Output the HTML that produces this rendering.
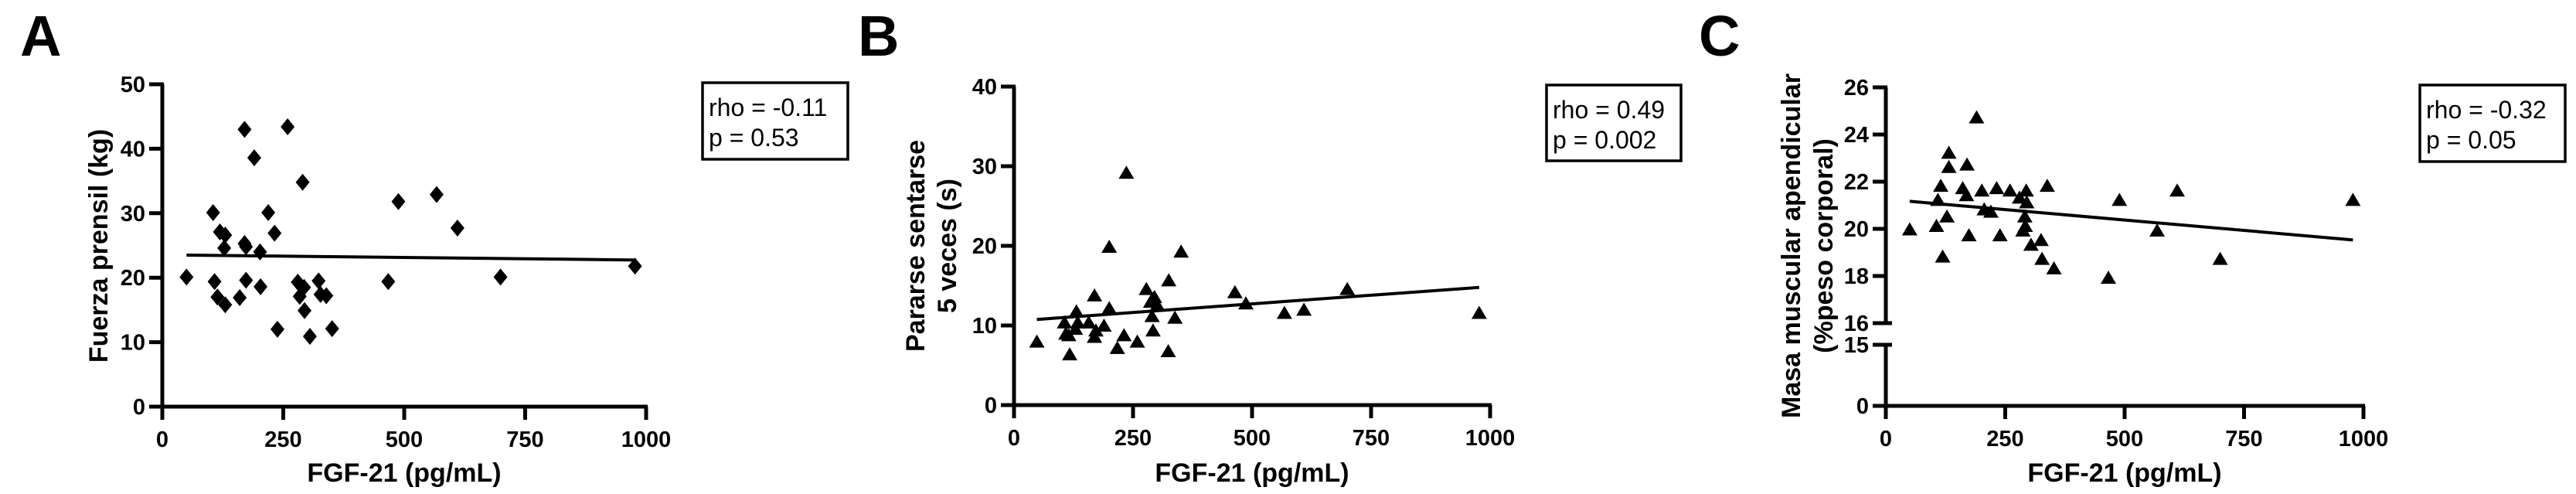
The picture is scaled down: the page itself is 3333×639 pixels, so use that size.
<!DOCTYPE html>
<html><head><meta charset="utf-8"><style>
html,body{margin:0;padding:0;background:#fff;}
svg{display:block;font-family:"Liberation Sans",Arial,sans-serif;}
</style></head><body>
<svg id="chart" width="3333" height="639" viewBox="0 0 3333 639" xmlns="http://www.w3.org/2000/svg"></svg>
<script>
// ---- data ----
const xTicks = [0, 250, 500, 750, 1000];
const aX = [50,108,114,130,105,119,130,128,160,170,170,173,173,190,202,203,219,232,238,259,280,284,290,293,294,305,323,327,339,351,467,488,567,610,699,977];
const aY = [20.1,19.4,17.0,15.8,30.1,27.1,26.6,24.6,16.9,43.0,25.3,24.8,19.6,38.6,24.0,18.6,30.1,26.9,12.0,43.4,19.3,17.1,34.8,18.5,14.9,10.9,19.5,17.4,17.2,12.1,19.4,31.8,32.9,27.7,20.1,21.8];
const aYTicks = [0,10,20,30,40,50];
const bX = [48,106,109,117,115,129,131,134,157,169,169,172,189,200,200,217,231,236,259,278,287,290,292,295,301,324,325,338,351,464,487,568,609,700,977];
const bY = [7.9,10.3,8.9,6.3,8.7,9.5,11.7,10.3,10.3,13.7,8.5,9.3,9.9,12.1,19.8,7.1,8.7,29.1,7.9,14.5,12.9,11.1,9.3,13.5,12.5,6.7,15.6,10.9,19.2,14.1,12.7,11.5,11.9,14.5,11.5];
const bYTicks = [0,10,20,30,40];
const cX = [50,106,109,115,119,128,132,132,170,161,169,174,190,201,206,220,232,239,260,280,287,291,294,295,292,304,325,327,338,352,466,489,568,610,700,978];
const cY = [19.95,20.1,21.2,21.8,18.8,20.5,22.6,23.2,22.7,21.7,21.4,19.7,24.7,21.6,20.8,20.7,21.7,19.7,21.6,21.3,19.9,20.5,21.6,21.1,20.1,19.3,19.5,18.7,21.8,18.3,17.9,21.2,19.9,21.6,18.7,21.2];
const cYTicksUpper = [16,18,20,22,24,26];
const cYTicksLower = [0,15];
const statsA = ["rho = -0.11","p = 0.53"];
const statsB = ["rho = 0.49","p = 0.002"];
const statsC = ["rho = -0.32","p = 0.05"];

const NS="http://www.w3.org/2000/svg";
const svg=document.getElementById('chart');
function mk(tag,attrs,parent){const e=document.createElementNS(NS,tag);for(const k in attrs)e.setAttribute(k,attrs[k]);(parent||svg).appendChild(e);return e;}

function fit(xs,ys){const n=xs.length;let mx=0,my=0;for(let i=0;i<n;i++){mx+=xs[i];my+=ys[i];}mx/=n;my/=n;let sxy=0,sxx=0;for(let i=0;i<n;i++){sxy+=(xs[i]-mx)*(ys[i]-my);sxx+=(xs[i]-mx)**2;}const b=sxy/sxx;return {a:my-b*mx,b:b};}

function panel(o){
  const g=mk('g',{});
  
  
  const sx=v=>o.x0+(v/1000)*(o.x1-o.x0);
  const sy=o.sy;
  // letter
  const L=mk('text',{x:o.letterX,y:72,'font-size':74,'font-weight':'bold',fill:'#000'},g);L.textContent=o.letter;
  
  
  // y axis
  for(const seg of o.ySegs){
    const ax=mk('line',{x1:o.x0,x2:o.x0,y1:seg[0],y2:seg[1],stroke:'#000','stroke-width':5},g);
    
    
  }
  for(const t of o.yTicks){
    const y=sy(t);
    mk('line',{x1:o.x0-17,x2:o.x0+2,y1:y,y2:y,stroke:'#000','stroke-width':5},g);
    const tl=mk('text',{x:o.x0-22,y:y+10,'font-size':29,'font-weight':'bold','text-anchor':'end'},g);tl.textContent=t;
    
    
  }
  for(const yb of (o.breakCaps||[])) mk('line',{x1:o.x0-17,x2:o.x0+8,y1:yb,y2:yb,stroke:'#000','stroke-width':5},g);
  // x axis
  const xa=mk('line',{x1:o.x0-17,x2:o.x1+2,y1:o.yBase,y2:o.yBase,stroke:'#000','stroke-width':5},g);
  
  
  for(const t of xTicks){
    const x=sx(t);
    mk('line',{x1:x,x2:x,y1:o.yBase,y2:o.yBase+17,stroke:'#000','stroke-width':5},g);
    const tl=mk('text',{x:x,y:o.yBase+52,'font-size':29,'font-weight':'bold','text-anchor':'middle'},g);tl.textContent=t;
    
    
  }
  const xt=mk('text',{x:(o.x0+o.x1)/2,y:623,'font-size':34,'font-weight':'bold','text-anchor':'middle'},g);xt.textContent='FGF-21 (pg/mL)';
  
  
  // y title
  o.yTitle.forEach((s,i)=>{
    const cx=o.yTitleX[i];
    const t=mk('text',{x:cx,y:318,'font-size':34,'font-weight':'bold','text-anchor':'middle','dominant-baseline':'central',transform:`rotate(-90 ${cx} 318)`},g);t.textContent=s;
    
    
  });
  // regression line
  const f=fit(o.xs,o.ys);
  const xmin=Math.min(...o.xs),xmax=Math.max(...o.xs);
  const rl=mk('line',{x1:sx(xmin),y1:sy(f.a+f.b*xmin),x2:sx(xmax),y2:sy(f.a+f.b*xmax),stroke:'#000','stroke-width':4},g);
  
  
  // points
  for(let i=0;i<o.xs.length;i++){
    const px=sx(o.xs[i]),py=sy(o.ys[i]);
    let pts;
    if(o.marker==='diamond') pts=`${px},${py-11} ${px+9},${py} ${px},${py+11} ${px-9},${py}`;
    else pts=`${px},${py-10} ${px+10},${py+7} ${px-10},${py+7}`;
    const p=mk('polygon',{points:pts,fill:'#000'},g);
    
    
  }
  // stats box
  const bx=mk('rect',{x:o.box[0],y:o.box[1],width:o.box[2],height:o.box[3],fill:'#fff',stroke:'#000','stroke-width':3.5},g);
  
  
  o.stats.forEach((s,i)=>{
    const t=mk('text',{x:o.box[0]+8,y:o.box[1]+43+i*39,'font-size':32},g);t.textContent=s;
    
    
  });
}

panel({name:'panel-a',letter:'A',letterX:26,x0:210,x1:836,yBase:526,
  sy:v=>526-v*(526-109)/50,ySegs:[[109,528]],yTicks:aYTicks,
  yTitle:['Fuerza prensil (kg)'],yTitleX:[128],xs:aX,ys:aY,marker:'diamond',
  box:[909,107,188,99],stats:statsA});
panel({name:'panel-b',letter:'B',letterX:1110,x0:1312,x1:1928,yBase:524,
  sy:v=>524-v*(524-112)/40,ySegs:[[112,526]],yTicks:bYTicks,
  yTitle:['Pararse sentarse','5 veces (s)'],yTitleX:[1185,1226],xs:bX,ys:bY,marker:'triangle',
  box:[2001,110,174,98],stats:statsB});
panel({name:'panel-c',letter:'C',letterX:2198,x0:2440,x1:3058,yBase:525,
  sy:v=>v>=15.5?418-(v-16)*30.5:525-v*(525-446)/15,ySegs:[[113,418],[446,527]],
  yTicks:cYTicksUpper.concat(cYTicksLower),breakCaps:[418,446],
  yTitle:['Masa muscular apendicular','(%peso corporal)'],yTitleX:[2318,2360],xs:cX,ys:cY,marker:'triangle',
  box:[3131,110,188,99],stats:statsC});
</script>
</body></html>
